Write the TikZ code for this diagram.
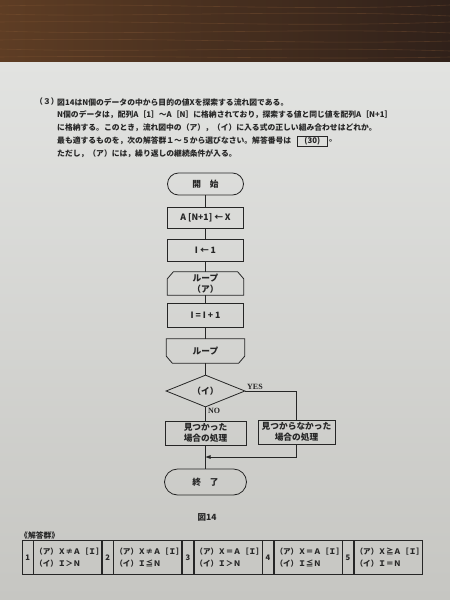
\documentclass[tikz,border=0pt]{standalone}
\usepackage{fontspec}
\setmainfont{Noto Sans CJK JP}
\newfontfamily\latinserif{Liberation Serif}
\usetikzlibrary{shapes.geometric,arrows.meta}
\definecolor{ink}{HTML}{262626}
\definecolor{paperTop}{HTML}{E2E3E1}
\definecolor{paperBot}{HTML}{C6C6C2}
\definecolor{woodA}{HTML}{5E3D24}
\definecolor{woodB}{HTML}{30211A}
\definecolor{grain}{HTML}{8A5C38}
\newcommand\bodyfs{\fontsize{7.8}{13}\selectfont\bfseries}
\newcommand\flowfs{\fontsize{8.7}{10.5}\selectfont\bfseries}
\newcommand\tabfs{\fontsize{7.6}{12.5}\selectfont\bfseries}
\begin{document}
\begin{tikzpicture}[x=1pt,y=-1pt,
  every node/.style={text=ink},
  conn/.style={draw=ink, line width=0.8pt},
  proc/.style={draw=ink, line width=0.8pt, minimum width=76pt, minimum height=22pt, inner sep=0pt, font=\flowfs, align=center},
  term/.style={proc, rounded corners=11pt},
  shell/.style={minimum width=76pt, minimum height=23pt, inner sep=0pt, font=\flowfs, align=center},
  decision/.style={diamond, draw=ink, line width=0.8pt, aspect=2.47, minimum width=79pt, minimum height=32pt, inner sep=0pt, font=\flowfs},
  body/.style={anchor=west, font=\bodyfs, inner sep=0pt},
  lbl/.style={font=\latinserif\fontsize{8}{9}\selectfont\bfseries, inner sep=0pt},
  numcell/.style={draw=ink, line width=0.8pt, anchor=north west, minimum width=10.5pt, minimum height=34pt, inner sep=0pt, font=\tabfs},
  anscell/.style={draw=ink, line width=0.8pt, anchor=north west, minimum width=68pt, minimum height=34pt, inner xsep=1.5pt, inner ysep=0pt, text width=65pt, align=left, font=\tabfs},
  grainline/.style={draw=grain, line width=0.6pt, opacity=0.35}
]
\useasboundingbox (0,0) rectangle (450,600);
% table top (wood)
\fill[left color=woodA, right color=woodB] (0,0) rectangle (450,62);
\draw[grainline] (0,6) .. controls (150,2) and (300,12) .. (450,5);
\draw[grainline] (0,14) .. controls (120,18) and (310,9) .. (450,16);
\draw[grainline] (0,22) .. controls (160,20) and (280,28) .. (450,22);
\draw[grainline] (0,31) .. controls (140,36) and (320,27) .. (450,33);
\draw[grainline] (0,40) .. controls (170,37) and (290,45) .. (450,41);
\draw[grainline] (0,49) .. controls (130,53) and (300,46) .. (450,51);
\draw[grainline] (0,57) .. controls (150,55) and (310,60) .. (450,57);
% paper
\fill[top color=paperTop, bottom color=paperBot] (0,62) rectangle (450,600);

% problem text
\node[body] (q3) at (35,102) {（３）};
\node[body] (l1) at (57,102) {図14はN個のデータの中から目的の値Xを探索する流れ図である。};
\node[body] (l2) at (57,115) {N個のデータは，配列A［1］～A［N］に格納されており，探索する値と同じ値を配列A［N+1］};
\node[body] (l3) at (57,128) {に格納する。このとき，流れ図中の（ア），（イ）に入る式の正しい組み合わせはどれか。};
\node[body] (l4) at (57,141) {最も適するものを，次の解答群１～５から選びなさい。解答番号は};
\node[draw=ink, line width=0.6pt, anchor=west, font=\bodyfs, minimum width=30pt, minimum height=10pt, inner sep=0pt] (ans) at (297,141) {(30)};
\node[body] (l4b) at (329,141) {。};
\node[body] (l5) at (57,154) {ただし，（ア）には，繰り返しの継続条件が入る。};

% flowchart
\node[term] (start) at (205.5,184) {開\hspace{9pt}始};
\node[proc, minimum height=21pt] (b1) at (205.5,217.5) {A [N+1] ← X};
\node[proc] (b2) at (205.5,250) {I ← 1};
\node[shell] (ls) at (205.5,283.5) {ループ\\（ア）};
\draw[conn] ([yshift=-7pt]ls.north west) -- ([xshift=6pt]ls.north west) -- ([xshift=-6pt]ls.north east) -- ([yshift=-7pt]ls.north east) -- (ls.south east) -- (ls.south west) -- cycle;
\node[proc, minimum height=24pt] (b3) at (205.5,315) {I = I + 1};
\node[shell, minimum height=24pt, minimum width=78pt] (le) at (205.5,351) {ループ};
\draw[conn] (le.north west) -- (le.north east) -- ([yshift=7pt]le.south east) -- ([xshift=-6pt]le.south east) -- ([xshift=6pt]le.south west) -- ([yshift=7pt]le.south west) -- cycle;
\node[decision] (dec) at (205.5,391) {（イ）};
\node[proc, minimum width=81pt, minimum height=24pt] (found) at (205.5,433) {見つかった\\場合の処理};
\node[proc, minimum width=77pt, minimum height=24pt] (nf) at (296.5,432) {見つからなかった\\場合の処理};
\node[term, minimum width=82pt, minimum height=26pt, rounded corners=13pt] (end) at (205.5,482) {終\hspace{9pt}了};

\draw[conn] (start) -- (b1);
\draw[conn] (b1) -- (b2);
\draw[conn] (b2) -- (ls);
\draw[conn] (ls) -- (b3);
\draw[conn] (b3) -- (le);
\draw[conn] (le) -- (dec);
\draw[conn] (dec) -- (found);
\draw[conn] (found) -- (end);
\draw[conn] (dec.east) -| (nf.north);
\coordinate (mj) at (205.5,457);
\draw[conn, -{Triangle[length=5pt,width=3.5pt]}] (nf.south) |- (mj);

\node[lbl, anchor=south west] (yes) at (247,390) {YES};
\node[lbl, anchor=north west] (no) at (208,408) {NO};

\node[font=\fontsize{8.5}{10}\selectfont\bfseries, inner sep=0pt] (cap) at (207,517) {図14};

% answer group
\node[body, font=\fontsize{7.8}{9}\selectfont\bfseries] (grp) at (20,535) {《解答群》};
\node[numcell] (n1) at (22,540) {1};
\node[anscell] (a1) at (n1.north east) {（ア）Ｘ≠Ａ［Ｉ］\\（イ）Ｉ＞Ｎ};
\node[numcell] (n2) at (a1.north east) {2};
\node[anscell] (a2) at (n2.north east) {（ア）Ｘ≠Ａ［Ｉ］\\（イ）Ｉ≦Ｎ};
\node[numcell] (n3) at (a2.north east) {3};
\node[anscell] (a3) at (n3.north east) {（ア）Ｘ＝Ａ［Ｉ］\\（イ）Ｉ＞Ｎ};
\node[numcell] (n4) at (a3.north east) {4};
\node[anscell] (a4) at (n4.north east) {（ア）Ｘ＝Ａ［Ｉ］\\（イ）Ｉ≦Ｎ};
\node[numcell] (n5) at (a4.north east) {5};
\node[anscell] (a5) at (n5.north east) {（ア）Ｘ≧Ａ［Ｉ］\\（イ）Ｉ＝Ｎ};
\end{tikzpicture}
\end{document}
